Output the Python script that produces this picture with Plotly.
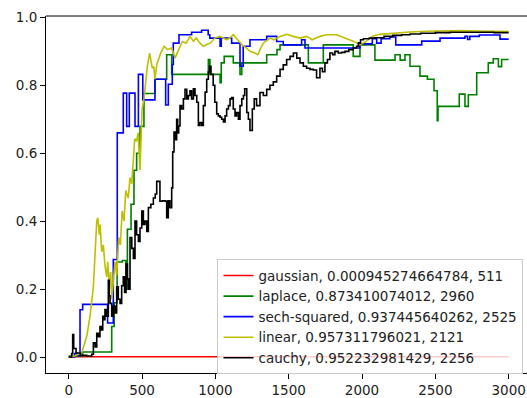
import plotly.graph_objects as go

# ---------------- data ----------------
gauss_x = [0, 3000]
gauss_y = [0.0009, 0.0009]

lap_x = [0, 95, 293, 310, 330, 365, 390, 400, 425, 445, 463, 486, 513, 588, 668, 702,
         952, 963, 1032, 1040, 1060, 1122, 1168, 1180, 1350, 1420, 1441, 1634, 1736,
         1940, 1986, 2088, 2225, 2260, 2293, 2327, 2395, 2446, 2491, 2513, 2518, 2663,
         2702, 2725, 2782, 2861, 2895, 2930, 2952, 3000]
lap_y = [0.003, 0.015, 0.09, 0.16, 0.28, 0.284, 0.20, 0.376, 0.45, 0.55, 0.60, 0.679,
         0.776, 0.818, 0.89, 0.832, 0.876, 0.832, 0.808, 0.866, 0.885, 0.866, 0.832,
         0.866, 0.89, 0.905, 0.919, 0.866, 0.919, 0.885, 0.919, 0.874, 0.89, 0.874,
         0.89, 0.856, 0.827, 0.818, 0.784, 0.696, 0.738, 0.774, 0.738, 0.772, 0.837,
         0.866, 0.878, 0.855, 0.876, 0.876]

sech_x = [0, 40, 60, 77, 95, 265, 304, 331, 372, 395, 413, 452, 475, 505, 588, 661,
          679, 706, 713, 752, 838, 906, 951, 962, 1032, 1040, 1111, 1168, 1190, 1236,
          1350, 1418, 1463, 1588, 1611, 1986, 2070, 2100, 2130, 2190, 2230, 2407, 2532,
          2702, 2720, 2735, 2800, 2941, 3000]
sech_y = [0.0, 0.01, 0.004, 0.139, 0.155, 0.10, 0.287, 0.66, 0.777, 0.679, 0.777,
          0.679, 0.832, 0.757, 0.818, 0.742, 0.803, 0.861, 0.924, 0.949, 0.956, 0.962,
          0.949, 0.939, 0.915, 0.939, 0.924, 0.856, 0.915, 0.934, 0.944, 0.929, 0.919,
          0.934, 0.91, 0.922, 0.937, 0.924, 0.937, 0.942, 0.919, 0.93, 0.939, 0.944,
          0.935, 0.944, 0.948, 0.936, 0.936]

lin_x = [0, 40, 77, 89, 123, 145, 168, 179, 191, 198, 209, 214, 225, 236, 247, 259,
         266, 277, 286, 293, 304, 316, 327, 341, 352, 364, 377, 389, 406, 418, 430, 450,
         462, 473, 486, 500, 513, 524, 536, 552, 570, 580, 588, 600, 627, 650, 675, 702,
         725, 750, 775, 800, 827, 850, 870, 895, 918, 941, 965, 996, 1030, 1077, 1100,
         1122, 1150, 1180, 1210, 1236, 1270, 1290, 1304, 1327, 1372, 1400, 1441, 1486,
         1531, 1577, 1622, 1660, 1713, 1758, 1826, 1884, 1940, 1986, 2030, 2075, 2122,
         2190, 2260, 2326, 2440, 2550, 2667, 2800, 2900, 3000]
lin_y = [0.0, 0.003, 0.01, 0.013, 0.061, 0.12, 0.207, 0.285, 0.40, 0.41, 0.36, 0.39,
         0.31, 0.33, 0.27, 0.236, 0.28, 0.206, 0.25, 0.17, 0.22, 0.28, 0.24, 0.352, 0.33,
         0.43, 0.40, 0.49, 0.468, 0.528, 0.51, 0.643, 0.635, 0.66, 0.55, 0.73, 0.76, 0.80,
         0.856, 0.895, 0.85, 0.855, 0.818, 0.86, 0.895, 0.915, 0.905, 0.91, 0.88, 0.905,
         0.929, 0.924, 0.944, 0.93, 0.939, 0.924, 0.915, 0.92, 0.924, 0.939, 0.944, 0.934,
         0.94, 0.949, 0.934, 0.92, 0.91, 0.90, 0.895, 0.89, 0.905, 0.924, 0.939, 0.934,
         0.944, 0.95, 0.944, 0.939, 0.944, 0.934, 0.944, 0.949, 0.949, 0.939, 0.93, 0.919,
         0.93, 0.945, 0.95, 0.952, 0.955, 0.957, 0.959, 0.96, 0.961, 0.96, 0.959, 0.958]

cau_x = [0, 20, 27, 34, 50, 80, 123, 157, 168, 180, 191, 202, 213, 222, 232, 240, 247,
         258, 270, 276, 282, 293, 304, 316, 327, 338, 350, 361, 372, 381, 391, 400, 407,
         418, 430, 441, 452, 463, 475, 486, 498, 509, 520, 532, 543, 560, 577, 590, 600,
         611, 622, 640, 656, 668, 679, 690, 702, 709, 718, 727, 736, 743, 750, 759, 770,
         782, 793, 805, 816, 827, 838, 850, 861, 873, 884, 895, 907, 918, 930, 941, 952,
         960, 970, 985, 996, 1009, 1020, 1032, 1043, 1055, 1066, 1077, 1089, 1100, 1111,
         1122, 1134, 1145, 1157, 1168, 1180, 1191, 1200, 1214, 1225, 1236, 1252, 1265,
         1281, 1304, 1327, 1350, 1372, 1395, 1418, 1441, 1463, 1486, 1509, 1532, 1555,
         1577, 1600, 1622, 1645, 1668, 1690, 1713, 1730, 1747, 1764, 1781, 1800, 1815,
         1838, 1860, 1884, 1910, 1940, 1963, 1975, 1990, 2010, 2050, 2088, 2150, 2210,
         2270, 2327, 2400, 2500, 2600, 2700, 2800, 2900, 3000]
cau_y = [0.0, 0.01, 0.066, 0.025, 0.012, 0.005, 0.003, 0.008, 0.042, 0.03, 0.07, 0.06,
         0.09, 0.08, 0.12, 0.11, 0.14, 0.12, 0.226, 0.18, 0.158, 0.12, 0.15, 0.13, 0.207,
         0.17, 0.158, 0.21, 0.236, 0.19, 0.274, 0.23, 0.20, 0.352, 0.32, 0.29, 0.40, 0.36,
         0.34, 0.38, 0.43, 0.39, 0.40, 0.37, 0.44, 0.45, 0.468, 0.48, 0.517, 0.517, 0.459,
         0.46, 0.459, 0.41, 0.46, 0.44, 0.498, 0.604, 0.662, 0.64, 0.70, 0.66, 0.68, 0.74,
         0.73, 0.76, 0.788, 0.76, 0.77, 0.784, 0.76, 0.79, 0.77, 0.75, 0.682, 0.69, 0.682,
         0.74, 0.78, 0.818, 0.84, 0.856, 0.832, 0.80, 0.75, 0.716, 0.71, 0.706, 0.70,
         0.692, 0.71, 0.73, 0.74, 0.76, 0.764, 0.73, 0.71, 0.72, 0.70, 0.74, 0.76, 0.77,
         0.79, 0.72, 0.70, 0.667, 0.73, 0.76, 0.74, 0.779, 0.77, 0.788, 0.80, 0.81, 0.827,
         0.847, 0.86, 0.876, 0.885, 0.895, 0.88, 0.866, 0.856, 0.85, 0.847, 0.845, 0.822,
         0.85, 0.84, 0.866, 0.876, 0.895, 0.89, 0.90, 0.895, 0.897, 0.90, 0.905, 0.91,
         0.915, 0.925, 0.934, 0.937, 0.939, 0.94, 0.944, 0.947, 0.949, 0.951, 0.953,
         0.955, 0.956, 0.956, 0.956, 0.955, 0.955]

series = [
    ("gaussian, 0.000945274664784, 511", gauss_x, gauss_y, "#ff0000", "hv"),
    ("laplace, 0.873410074012, 2960", lap_x, lap_y, "#008000", "hv"),
    ("sech-squared, 0.937445640262, 2525", sech_x, sech_y, "#0000ff", "hv"),
    ("linear, 0.957311796021, 2121", lin_x, lin_y, "#bfbf00", "linear"),
    ("cauchy, 0.952232981429, 2256", cau_x, cau_y, "#000000", "hv"),
]

x_ticks = [0, 500, 1000, 1500, 2000, 2500, 3000]
y_ticks = [0.0, 0.2, 0.4, 0.6, 0.8, 1.0]

# ---------------- figure ----------------
fig = go.Figure()
for name, xs, ys, col, shape in series:
    fig.add_trace(go.Scatter(x=xs, y=ys, mode="lines", name=name,
                             line=dict(color=col, width=1.6, shape=shape)))

font = dict(family="DejaVu Sans", size=13.5, color="#222222")
fig.update_layout(
    width=527, height=398,
    margin=dict(l=46, r=0, t=16, b=21),
    paper_bgcolor="white", plot_bgcolor="white",
    font=font,
    showlegend=True,
    legend=dict(x=0.9927, xanchor="right", y=0.3186, yanchor="top",
                bgcolor="rgba(255,255,255,0.8)", bordercolor="#cccccc",
                borderwidth=1, font=font, itemwidth=30, tracegroupgap=0),
    xaxis=dict(range=[-155, 3125], tickvals=x_ticks, showgrid=False, zeroline=False,
               showline=True, linecolor="black", linewidth=1, ticks="outside",
               ticklen=5, tickwidth=1, tickcolor="black", tickfont=font),
    yaxis=dict(range=[-0.047, 1.004], tickvals=y_ticks, tickformat=".1f",
               showgrid=False, zeroline=False, showline=True, linecolor="black",
               linewidth=1, ticks="outside", ticklen=5, tickwidth=1,
               tickcolor="black", tickfont=font),
    shapes=[dict(type="line", xref="paper", yref="paper", x0=0, x1=1, y0=1, y1=1,
                 line=dict(color="black", width=1))],
)
fig.write_html("out.html")
